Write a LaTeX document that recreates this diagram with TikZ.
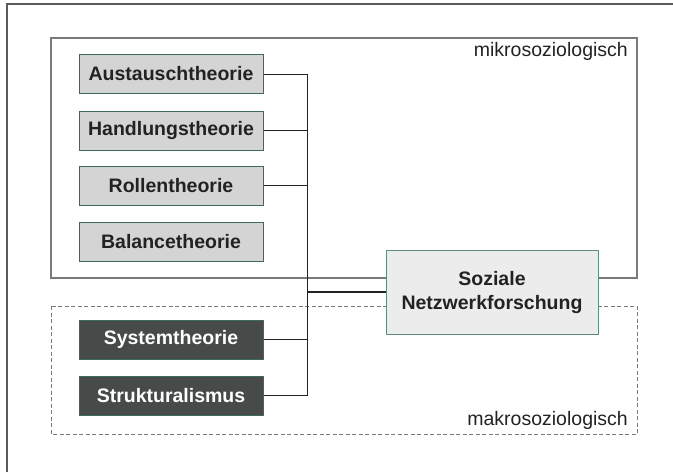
\documentclass[tikz,border=0pt]{standalone}
\usepackage{fontspec}
\setmainfont{Liberation Sans}
\begin{document}
\definecolor{frameGray}{HTML}{5A5A5A}
\definecolor{zoneGray}{HTML}{7A7A7A}
\definecolor{boxEdge}{HTML}{3E6B55}
\definecolor{lightFill}{HTML}{D4D4D4}
\definecolor{darkFill}{HTML}{464B4A}
\definecolor{centerFill}{HTML}{ECECEC}
\definecolor{centerEdge}{HTML}{5E8C7A}
\definecolor{ink}{HTML}{222222}
\begin{tikzpicture}[x=1pt,y=-1pt,
  theory/.style={draw=boxEdge,line width=1pt,fill=lightFill,text=ink,
    minimum width=184pt,minimum height=39pt,inner sep=0pt,
    font=\fontsize{19.5}{24}\selectfont\bfseries},
  macrotheory/.style={theory,fill=darkFill,text=white},
  hub/.style={draw=centerEdge,line width=1pt,fill=centerFill,text=ink,
    minimum width=212pt,minimum height=84pt,inner sep=0pt,align=center,
    font=\fontsize{19.5}{24}\selectfont\bfseries},
  zone/.style={draw=zoneGray,line width=1.1pt},
  zonelabel/.style={text=ink,inner sep=0pt,font=\fontsize{19.5}{24}\selectfont},
  link/.style={draw=ink,line width=1pt},
  mainlink/.style={draw=ink,line width=2pt}]
\useasboundingbox (0,0) rectangle (673,472);
% outer frame (open to the right and bottom)
\draw[frameGray,line width=2pt] (7,472) -- (7,4) -- (673,4);
% micro and macro zones
\draw[zone] (51,38) rectangle (637,278);
\draw[zone,dashed,dash pattern=on 4pt off 2.5pt,line width=0.9pt] (51,306) rectangle (637,434);
\node[zonelabel,anchor=north east] (mikro) at (628,42) {mikrosoziologisch};
\node[zonelabel,anchor=base east] (makro) at (628,425) {makrosoziologisch};
% theory boxes
\node[theory] (aus) at (171,74) {Austauschtheorie};
\node[theory] (han) at (171,130.5) {Handlungstheorie};
\node[theory] (rol) at (171,185.5) {Rollentheorie};
\node[theory] (bal) at (171,242) {Balancetheorie};
\node[macrotheory] (sys) at (171,339.5) {Systemtheorie};
\node[macrotheory] (str) at (171,395.5) {Strukturalismus};
% central node
\node[hub] (soz) at (492,292) {Soziale\\Netzwerkforschung};
% bus line
\coordinate (bustop) at (307,74);
\coordinate (busbot) at (307,395.5);
\draw[link] (aus.east) -- (bustop) -- (busbot) -- (str.east);
\draw[link] (han.east) -- (han.east -| bustop);
\draw[link] (rol.east) -- (rol.east -| bustop);
\draw[link] (sys.east) -- (sys.east -| bustop);
\draw[mainlink] (soz.west) -- (soz.west -| bustop);
\end{tikzpicture}
\end{document}
